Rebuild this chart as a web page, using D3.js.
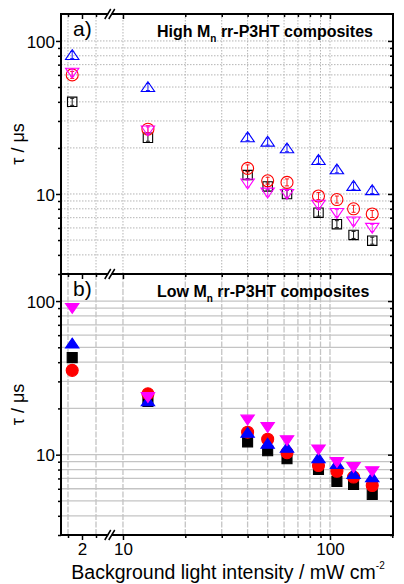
<!DOCTYPE html>
<html>
<head>
<meta charset="utf-8">
<script src="https://cdn.jsdelivr.net/npm/d3@7"></script>
<style>
  body { margin: 0; background: #fff; }
  text { font-family: Arial, "Liberation Sans", sans-serif; }
</style>
</head>
<body>
<svg id="chart" width="404" height="584"></svg>
<script>
// light intensity (mW cm^-2); first point sits on the broken left segment
const intensity = [1.65, 13.2, 40, 50, 62, 88, 108, 130, 160]

// a) High Mn, open markers
const highBlack = [40, 23.3, 13.3, 11.2, 10.0, 7.55, 6.35, 5.4, 4.95]
const highRed = [60, 26.5, 14.7, 12.2, 11.9, 9.7, 9.2, 8.0, 7.4]
const highBlue = [81, 50, 23.5, 22, 19.9, 16.7, 14.5, 11.3, 10.6]
const highMagenta = [62, 26, 11.7, 10.2, 10.0, 8.5, 7.5, 6.6, 6.0]

// b) Low Mn, filled markers
const lowBlack = [42.8, 22.2, 12.1, 10.6, 9.4, 8.0, 6.7, 6.4, 5.5]
const lowRed = [35.4, 24.9, 14.0, 12.6, 10.3, 8.5, 7.8, 7.15, 6.3]
const lowBlue = [53, 22.3, 13.9, 11.8, 11.1, 9.5, 8.7, 7.5, 7.15]
const lowMagenta = [90, 23.7, 16.9, 15.1, 12.4, 10.8, 8.95, 8.3, 7.8]

const yMajor = [10, 100]
const yMinor = [3, 4, 5, 6, 7, 8, 9, 20, 30, 40, 50, 60, 70, 80, 90]
const xLeftMajor = [2]
const xLeftMinor = [1.5, 2.5]
const xRightMajor = [10, 100]
const xRightMinor = [20, 30, 40, 50, 60, 70, 80, 90, 200]

const left = 61, right = 393
const svg = d3.select('#chart')

const xLeft = d3.scaleLinear().domain([1.25, 3]).range([left, 110])
const xRight = d3.scaleLog().domain([9, 200]).range([113.5, right - 0.7])
const x = v => v < 5 ? xLeft(v) : xRight(v)
const breakX = (xLeft.range()[1] + xRight.range()[0]) / 2 - 1

const panels = [
  { top: 14, bottom: 274, label: 'a)', title: 'High M', filled: false,
    series: [[highBlack, 'square', '#000'], [highRed, 'circle', '#ff0000'],
             [highBlue, 'up', '#0000ff'], [highMagenta, 'down', '#ff00ff']] },
  { top: 274, bottom: 535, label: 'b)', title: 'Low M', filled: true,
    series: [[lowBlack, 'square', '#000'], [lowRed, 'circle', '#ff0000'],
             [lowBlue, 'up', '#0000ff'], [lowMagenta, 'down', '#ff00ff']] }
]

const shape = (type, s) => {
  if (type === 'square') return `M${-s},${-s}H${s}V${s}H${-s}Z`
  if (type === 'circle') return `M${-s - 0.8},0a${s + 0.8},${s + 0.8} 0 1,0 ${2 * s + 1.6},0a${s + 0.8},${s + 0.8} 0 1,0 ${-2 * s - 1.6},0Z`
  const h = s * 1.7
  if (type === 'up') return `M0,${-h * 0.6}L${s + 1.5},${h * 0.4 + 1}L${-s - 1.5},${h * 0.4 + 1}Z`
  return `M0,${h * 0.6}L${s + 1.5},${-h * 0.4 - 1}L${-s - 1.5},${-h * 0.4 - 1}Z`
}

panels.forEach((p, i) => {
  const y = d3.scaleLog().domain([3, 150]).range([p.bottom, p.top])
  const g = svg.append('g')

  // grid
  const grid = g.append('g')
  grid.selectAll('line.h').data(yMajor.concat(yMinor)).join('line')
    .attr('x1', left).attr('x2', right)
    .attr('y1', d => y(d)).attr('y2', d => y(d))
    .attr('stroke', i === 0 ? '#b4b4b4' : '#c4c4c4')
    .attr('stroke-width', i === 0 ? 1 : 1.3)
    .attr('stroke-dasharray', i === 0 ? '1.5,1.5' : null)
  grid.selectAll('line.v').data(xLeftMinor.concat(xRightMajor, xRightMinor.slice(0, -1))).join('line')
    .attr('x1', d => x(d)).attr('x2', d => x(d))
    .attr('y1', p.top).attr('y2', p.bottom)
    .attr('stroke', i === 0 ? '#b4b4b4' : '#c4c4c4')
    .attr('stroke-width', i === 0 ? 1 : 1.3)
    .attr('stroke-dasharray', i === 0 ? '1.5,1.5' : '6,1.5')

  // y axes, left outward and right inward
  const yAx = (ax, vals, size, fmt) => ax(y).tickValues(vals).tickSize(size).tickFormat(fmt)
  g.append('g').attr('transform', `translate(${left},0)`).call(yAx(d3.axisLeft, yMinor, 3, ''))
  g.append('g').attr('class', 'ylab').attr('transform', `translate(${left},0)`).call(yAx(d3.axisLeft, yMajor, 5, d3.format('d')))
  g.append('g').attr('transform', `translate(${right},0)`).call(yAx(d3.axisLeft, yMinor, 3, ''))
  g.append('g').attr('transform', `translate(${right},0)`).call(yAx(d3.axisLeft, yMajor, 5, ''))

  // x ticks on top (inward) of each panel
  ;[[xLeft, xLeftMinor, 3], [xLeft, xLeftMajor, 5], [xRight, xRightMinor, 3], [xRight, xRightMajor, 5]]
    .forEach(([sc, vals, size]) => {
      g.append('g').attr('transform', `translate(0,${p.top})`)
        .call(d3.axisBottom(sc).tickValues(vals).tickSize(size).tickFormat(''))
    })

  g.selectAll('.domain').remove()
  g.selectAll('.tick line').attr('stroke', '#000').attr('stroke-width', 1.5)
  g.selectAll('.ylab text').attr('font-size', 17).attr('fill', '#000').attr('x', -6).attr('dy', '0.36em')

  // markers
  p.series.forEach(([vals, type, color]) => {
    const m = g.append('g').selectAll('g').data(vals).join('g')
      .attr('transform', (d, j) => `translate(${x(intensity[j])},${y(d)})`)
    const s = type === 'square' ? (p.filled ? 5 : 4.7) : 5.2
    m.append('path').attr('d', shape(type, s))
      .attr('fill', p.filled ? color : 'none')
      .attr('stroke', color).attr('stroke-width', 1.1)
    if (!p.filled) {
      // small error bar drawn inside each open marker
      m.append('path').attr('d', 'M0,-3.5V3.5M-2,-3.5H2M-2,3.5H2')
        .attr('stroke', color).attr('stroke-width', 0.9).attr('fill', 'none')
    }
  })

  g.append('text').attr('x', 73).attr('y', p.top + 22)
    .attr('font-size', 21).text(p.label)

  const t = g.append('text').attr('x', 157).attr('y', p.top + 23)
    .attr('font-size', 16).attr('font-weight', 'bold')
  t.append('tspan').text(p.title)
  t.append('tspan').attr('font-size', 10).attr('dy', 5).text('n')
  t.append('tspan').attr('dy', -5).text(' rr-P3HT composites')

  g.append('text')
    .attr('transform', `translate(24,${(p.top + p.bottom) / 2}) rotate(-90)`)
    .attr('text-anchor', 'middle').attr('font-size', 18).text('τ / μs')
})

// bottom axis, ticks outward
const bottom = panels[1].bottom
;[[xLeft, xLeftMinor, 3, ''], [xLeft, xLeftMajor, 5, null], [xRight, xRightMinor, 3, ''], [xRight, xRightMajor, 5, null]]
  .forEach(([sc, vals, size, fmt]) => {
    svg.append('g').attr('class', 'xax').attr('transform', `translate(0,${bottom})`)
      .call(d3.axisBottom(sc).tickValues(vals).tickSize(size).tickFormat(fmt === '' ? '' : d3.format('d')))
  })
svg.selectAll('.xax .domain').remove()
svg.selectAll('.xax .tick line').attr('stroke', '#000').attr('stroke-width', 1.5)
svg.selectAll('.xax text').attr('font-size', 17).attr('fill', '#000').attr('dy', '0.71em')

// frame
const frame = svg.append('g').attr('stroke', '#000').attr('stroke-width', 2).attr('fill', 'none')
frame.append('rect').attr('x', left).attr('y', panels[0].top)
  .attr('width', right - left).attr('height', bottom - panels[0].top)
frame.append('line').attr('x1', left).attr('x2', right)
  .attr('y1', panels[0].bottom).attr('y2', panels[0].bottom)

// axis break marks
;[panels[0].top, panels[0].bottom, bottom].forEach(yy => {
  svg.append('path')
    .attr('d', `M${breakX - 5},${yy + 4}L${breakX + 1},${yy - 5}L${breakX + 4},${yy - 5}L${breakX - 2},${yy + 4}Z`)
    .attr('fill', '#fff')
  svg.append('path')
    .attr('d', `M${breakX - 6},${yy + 5}L${breakX},${yy - 5}M${breakX - 2},${yy + 5}L${breakX + 4},${yy - 5}`)
    .attr('stroke', '#000').attr('stroke-width', 1.5)
})

const xt = svg.append('text').attr('x', 228).attr('y', 579)
  .attr('text-anchor', 'middle').attr('font-size', 19.5)
xt.append('tspan').text('Background light intensity / mW cm')
xt.append('tspan').attr('font-size', 10).attr('dy', -10).text('-2')
</script>
</body>
</html>
